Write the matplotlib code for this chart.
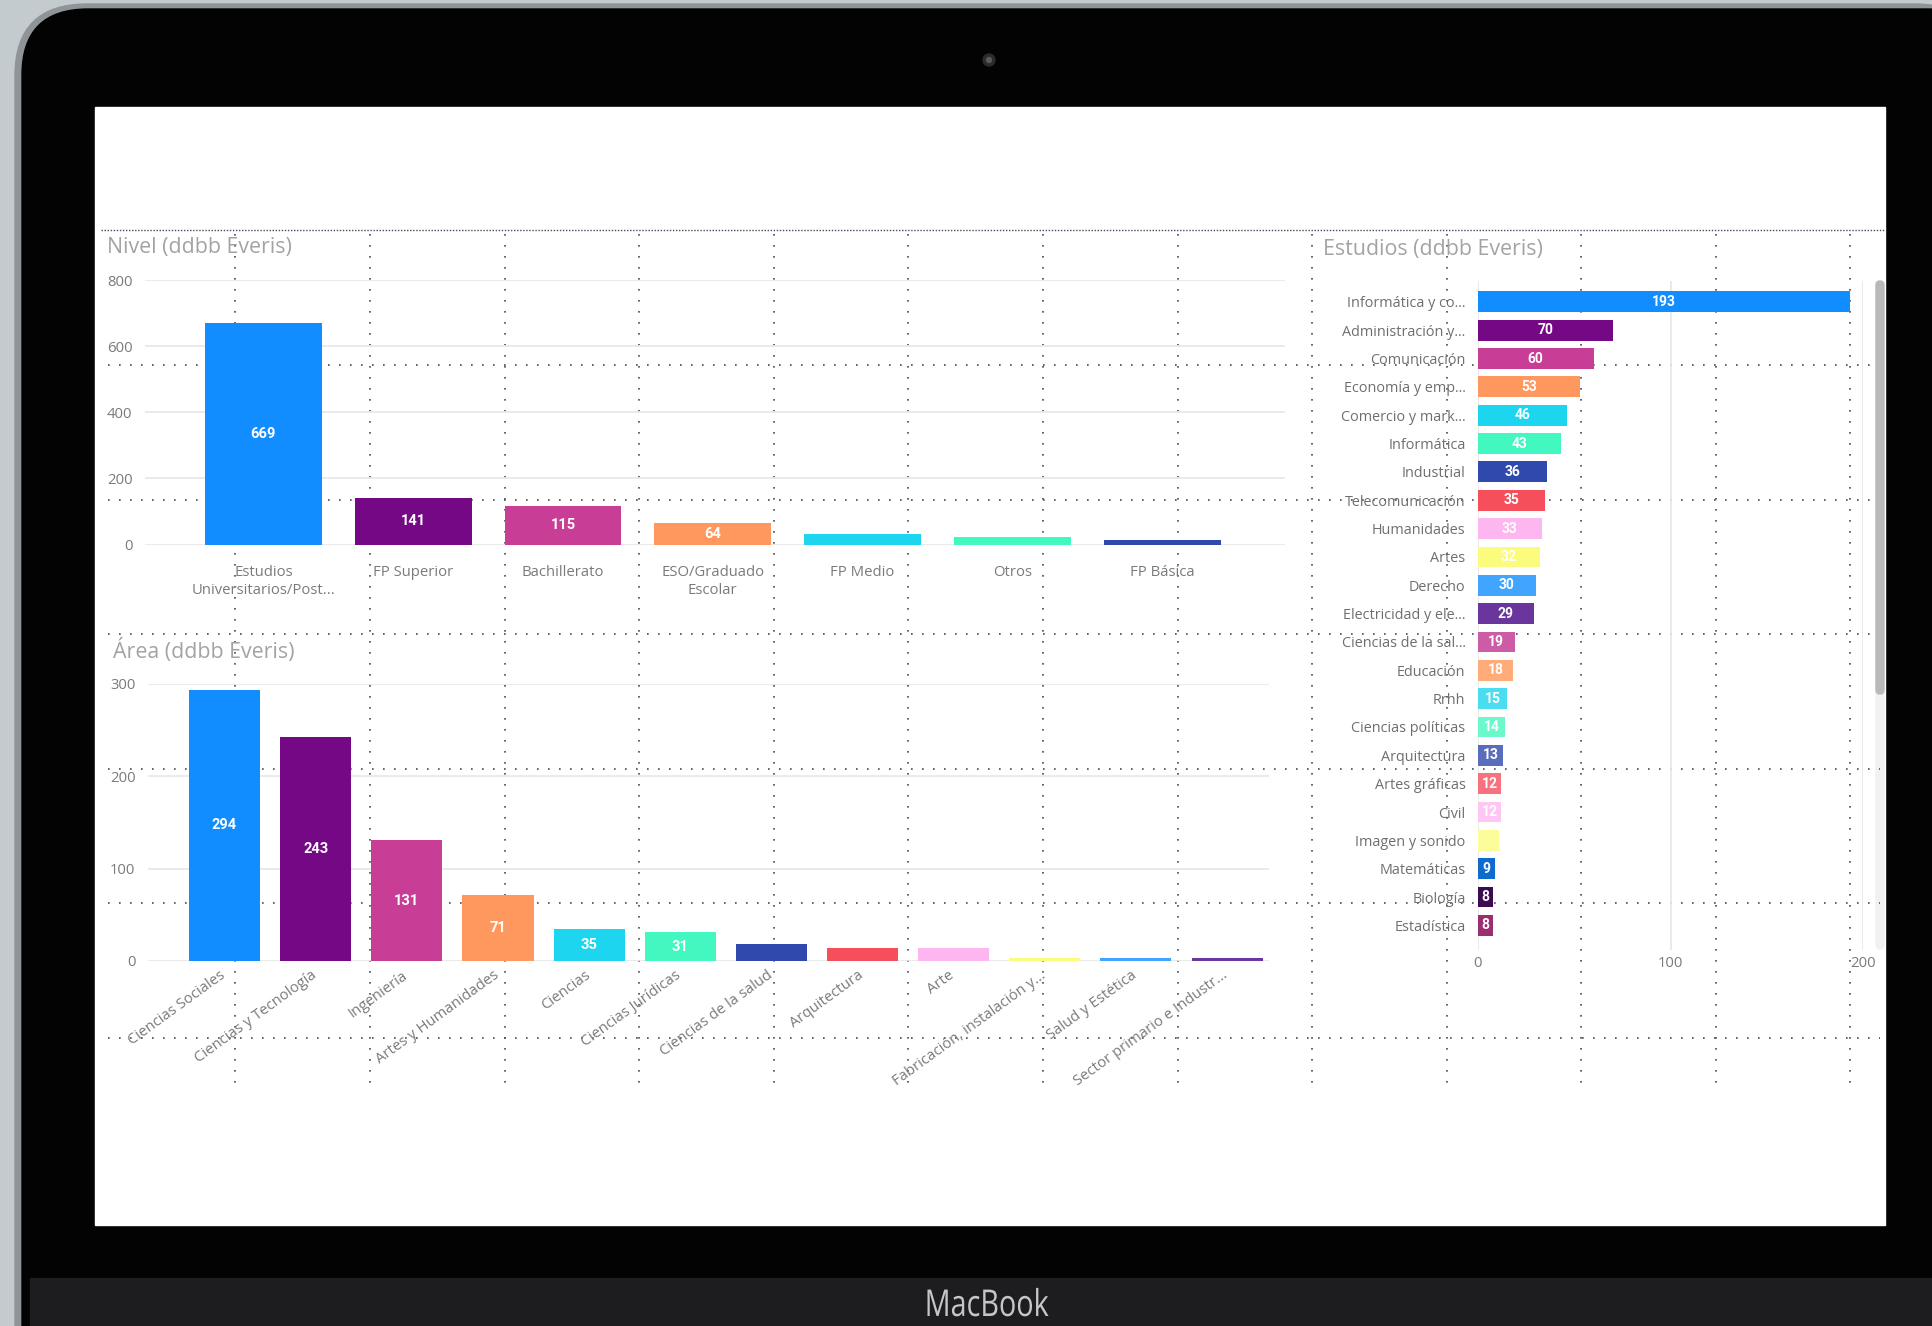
import matplotlib
matplotlib.use('Agg')
import matplotlib.pyplot as plt
import matplotlib.transforms as mtrans
import numpy as np
from matplotlib.patches import FancyBboxPatch, Rectangle, Circle, PathPatch
from matplotlib.textpath import TextPath
from matplotlib.font_manager import FontProperties

W, H = 1932, 1326

# ---- data ----
nivel_cats = ['Estudios\nUniversitarios/Post...', 'FP Superior', 'Bachillerato',
              'ESO/Graduado\nEscolar', 'FP Medio', 'Otros', 'FP Básica']
nivel_vals = [669, 141, 115, 64, 33, 22, 13]

area_cats = ['Ciencias Sociales', 'Ciencias y Tecnología', 'Ingeniería',
             'Artes y Humanidades', 'Ciencias', 'Ciencias Jurídicas',
             'Ciencias de la salud', 'Arquitectura', 'Arte',
             'Fabricación, instalación y...', 'Salud y Estética',
             'Sector primario e Industr...']
area_vals = [294, 243, 131, 71, 35, 31, 18, 14, 14, 3, 3, 3]

estudios_cats = ['Informática y co...', 'Administración y...', 'Comunicación',
                 'Economía y emp...', 'Comercio y mark...', 'Informática',
                 'Industrial', 'Telecomunicación', 'Humanidades', 'Artes',
                 'Derecho', 'Electricidad y ele...', 'Ciencias de la sal...',
                 'Educación', 'Rrhh', 'Ciencias políticas', 'Arquitectura',
                 'Artes gráficas', 'Civil', 'Imagen y sonido', 'Matemáticas',
                 'Biología', 'Estadística']
estudios_vals = [193, 70, 60, 53, 46, 43, 36, 35, 33, 32, 30, 29, 19, 18, 15,
                 14, 13, 12, 12, 11, 9, 8, 8]
estudios_hidden = ['Imagen y sonido']

palette = ['#118DFF', '#750985', '#C83D95', '#FF985E', '#1DD5EE', '#42F7C0',
           '#3049AD', '#F64F5C', '#FDB6EF', '#FBFB7E', '#41A4FF', '#6A359C',
           '#CD5CA6', '#FFAB7A', '#4ADDF1', '#6CF8CD', '#5A6DBD', '#F8727D',
           '#FFC6F3', '#FCFC9A', '#0F6BCC', '#3D0B50', '#9A2E6F']

UI = ['Open Sans', 'DejaVu Sans']
NUM = ['Roboto', 'DejaVu Sans']
TICK_C = '#7a7a7a'
GRID_C = '#e8e8e8'
TITLE_C = '#a3a3a3'
DOT_C = '#454b5c'

plt.rcParams['font.family'] = UI

fig = plt.figure(figsize=(W / 100, H / 100), dpi=100)

# background: laptop frame + screen
bg = fig.add_axes([0, 0, 1, 1])
bg.set_xlim(0, W)
bg.set_ylim(H, 0)
bg.axis('off')
bg.add_patch(Rectangle((0, 0), W, H, color='#c4cbce', zorder=0))
bg.add_patch(FancyBboxPatch((15, 4), W + 40, H + 100, boxstyle='round,pad=0,rounding_size=72',
                            color='#8e9498', zorder=1))
bg.add_patch(FancyBboxPatch((22, 9), W + 40, H + 100, boxstyle='round,pad=0,rounding_size=66',
                            color='#030303', zorder=2))
bg.add_patch(Rectangle((30, 1278), W, 60, color='#1d1c1e', zorder=3))
bg.add_patch(Rectangle((95, 107), 1790, 1118, color='white', zorder=3))
bg.add_patch(Circle((989, 60), 6, color='#2b2b2b', zorder=4))
bg.add_patch(Circle((989, 60), 2.5, color='#5a5a5a', zorder=5))

# narrow "MacBook" lettering on the hinge
tp = TextPath((0, 0), 'MacBook', size=37, prop=FontProperties(family='Open Sans'))
ext = tp.get_extents()
sx = 121 / ext.width
tr = mtrans.Affine2D().translate(-ext.x0 - ext.width / 2, 0).scale(sx, -1).translate(988, 1316)
bg.add_patch(PathPatch(tr.transform_path(tp), color='#c6c6c6', lw=0, zorder=5))

# scrollbar of the right visual
bg.add_patch(FancyBboxPatch((1876, 281), 8, 668, boxstyle='round,pad=0,rounding_size=4',
                            color='#f1f1f1', zorder=4))
bg.add_patch(FancyBboxPatch((1876, 281), 8, 413, boxstyle='round,pad=0,rounding_size=4',
                            color='#b9b9b9', zorder=5))

# dotted snap grid of the report canvas
step = 134.6
bg.plot([101, 1884], [230.4, 230.4], ls=(0, (1, 1.2)), lw=1.0, color=DOT_C,
        dash_capstyle='butt', zorder=4)
for k in range(1, 7):
    y = 230.4 + step * k
    bg.plot([108, 1880], [y, y], ls=(0, (1, 5.6)), lw=1.2, color=DOT_C,
            dash_capstyle='butt', zorder=4)
for k in range(13):
    x = 235.3 + step * k
    bg.plot([x, x], [234, 1084], ls=(0, (1, 5.6)), lw=1.2, color=DOT_C,
            dash_capstyle='butt', zorder=4)

# titles
bg.text(107, 248, 'Nivel (ddbb Everis)', color=TITLE_C, fontsize=15.4, va='center', zorder=6)
bg.text(113, 651, 'Área (ddbb Everis)', color=TITLE_C, fontsize=15.4, va='center', zorder=6)
bg.text(1323, 249, 'Estudios (ddbb Everis)', color=TITLE_C, fontsize=15.4, va='center', zorder=6)


def px_axes(x0, y0, x1, y1):
    ax = fig.add_axes([x0 / W, 1 - y1 / H, (x1 - x0) / W, (y1 - y0) / H])
    ax.set_facecolor('none')
    for s in ax.spines.values():
        s.set_visible(False)
    ax.tick_params(length=0, colors=TICK_C, labelsize=10.7)
    return ax


# Nivel
ax1 = px_axes(145, 280, 1285, 544.5)
x1 = np.arange(len(nivel_vals))
ax1.bar(x1, nivel_vals, width=0.78, color=palette[:len(nivel_vals)], zorder=3)
ax1.set_xlim(-0.79, 6.82)
ax1.set_ylim(0, 800)
ax1.set_yticks([0, 200, 400, 600, 800])
ax1.yaxis.grid(True, color=GRID_C, lw=1.3, zorder=0)
ax1.set_xticks(x1, nivel_cats)
ax1.tick_params(axis='x', pad=15)
ax1.tick_params(axis='y', pad=9)
for i, v in enumerate(nivel_vals):
    if v >= 50:
        ax1.text(i, v / 2, str(v), ha='center', va='center', color='white',
                 fontsize=10.5, fontweight='bold', family=NUM, zorder=4)

# Area
ax2 = px_axes(148, 684, 1269, 961)
x2 = np.arange(len(area_vals))
ax2.bar(x2, area_vals, width=0.78, color=palette[:len(area_vals)], zorder=3)
ax2.set_xlim(-0.84, 11.46)
ax2.set_ylim(0, 300)
ax2.set_yticks([0, 100, 200, 300])
ax2.yaxis.grid(True, color=GRID_C, lw=1.3, zorder=0)
ax2.set_xticks(x2, area_cats, rotation=36, ha='right', va='top', rotation_mode='anchor')
ax2.tick_params(axis='x', pad=5)
ax2.tick_params(axis='y', pad=9)
shift = mtrans.ScaledTranslation(-5 / 100, 0, fig.dpi_scale_trans)
for lab in ax2.get_xticklabels():
    lab.set_transform(lab.get_transform() + shift)
for i, v in enumerate(area_vals):
    if v >= 25:
        ax2.text(i, v / 2, str(v), ha='center', va='center', color='white',
                 fontsize=10.5, fontweight='bold', family=NUM, zorder=4)

# Estudios
ax3 = px_axes(1478, 281, 1863, 950)
y3 = np.arange(len(estudios_vals))
ax3.barh(y3, estudios_vals, height=0.74, color=palette[:len(estudios_vals)], zorder=3)
ax3.set_xlim(0, 200)
ax3.set_ylim(22.87, -0.74)
ax3.set_xticks([0, 100, 200])
ax3.xaxis.grid(True, color=GRID_C, lw=1.3, zorder=0)
ax3.set_yticks(y3, estudios_cats)
ax3.tick_params(axis='y', pad=9, labelcolor='#6e6e6e', labelsize=10.4)
ax3.tick_params(axis='x', pad=4)
for i, (c, v) in enumerate(zip(estudios_cats, estudios_vals)):
    if c not in estudios_hidden:
        ax3.text(v / 2, i, str(v), ha='center', va='center', color='white',
                 fontsize=10, fontweight='bold', family=NUM, zorder=4)

fig.savefig('out.png', dpi=100)
